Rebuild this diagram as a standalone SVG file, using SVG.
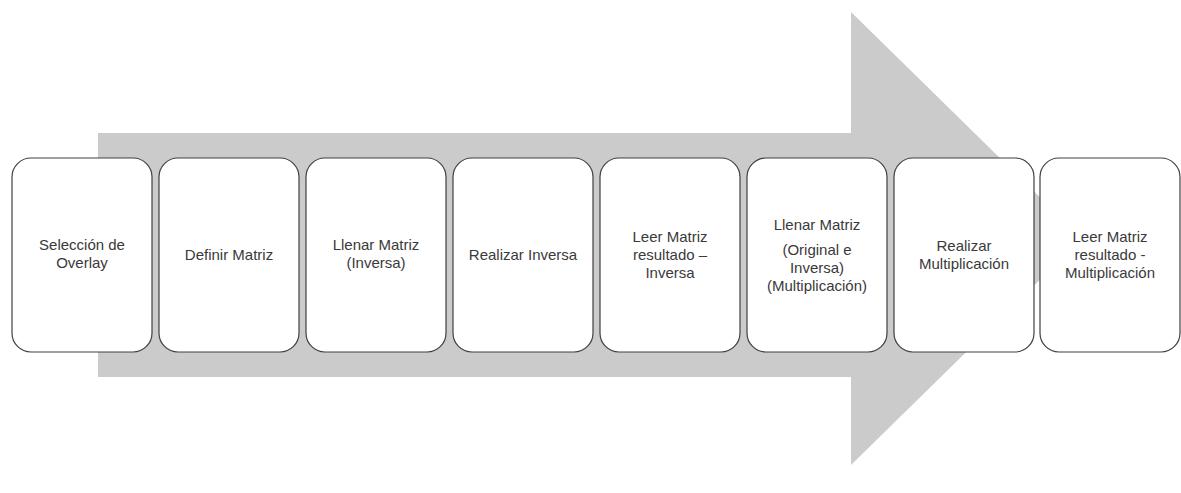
<svg xmlns="http://www.w3.org/2000/svg" width="1181" height="493" viewBox="0 0 1181 493">
  <style>
    .box { fill: #ffffff; stroke: #404040; stroke-width: 1.2; }
    .lbl { font-family: "Liberation Sans", Arial, sans-serif; font-size: 15px; fill: #3a3a3a; text-anchor: middle; }
  </style>
  <defs>
    <rect id="card" x="0" y="0" width="140" height="194" rx="19" ry="19"/>
  </defs>
  <rect width="1181" height="493" fill="#ffffff"/>

  <!-- big background arrow -->
  <g id="arrow">
    <polygon points="98,133 851,133 851,12 1082,238.5 851,465 851,377 98,377" fill="#cbcbcb"/>
  </g>

  <g id="connectors"></g>

  <g id="step1" transform="translate(12,158)">
    <use href="#card" class="box"/>
    <text class="lbl" x="70" y="92">Selección de</text>
    <text class="lbl" x="70" y="110">Overlay</text>
  </g>
  <g id="step2" transform="translate(159,158)">
    <use href="#card" class="box"/>
    <text class="lbl" x="70" y="102">Definir Matriz</text>
  </g>
  <g id="step3" transform="translate(306,158)">
    <use href="#card" class="box"/>
    <text class="lbl" x="70" y="92">Llenar Matriz</text>
    <text class="lbl" x="70" y="110">(Inversa)</text>
  </g>
  <g id="step4" transform="translate(453,158)">
    <use href="#card" class="box"/>
    <text class="lbl" x="70" y="102">Realizar Inversa</text>
  </g>
  <g id="step5" transform="translate(600,158)">
    <use href="#card" class="box"/>
    <text class="lbl" x="70" y="84">Leer Matriz</text>
    <text class="lbl" x="70" y="102">resultado –</text>
    <text class="lbl" x="70" y="120">Inversa</text>
  </g>
  <g id="step6" transform="translate(747,158)">
    <use href="#card" class="box"/>
    <text class="lbl" x="70" y="72">Llenar Matriz</text>
    <text class="lbl" x="70" y="97">(Original e</text>
    <text class="lbl" x="70" y="115">Inversa)</text>
    <text class="lbl" x="70" y="133">(Multiplicación)</text>
  </g>
  <g id="step7" transform="translate(894,158)">
    <use href="#card" class="box"/>
    <text class="lbl" x="70" y="93">Realizar</text>
    <text class="lbl" x="70" y="111">Multiplicación</text>
  </g>
  <g id="step8" transform="translate(1040,158)">
    <use href="#card" class="box"/>
    <text class="lbl" x="70" y="84">Leer Matriz</text>
    <text class="lbl" x="70" y="102">resultado -</text>
    <text class="lbl" x="70" y="120">Multiplicación</text>
  </g>
</svg>
